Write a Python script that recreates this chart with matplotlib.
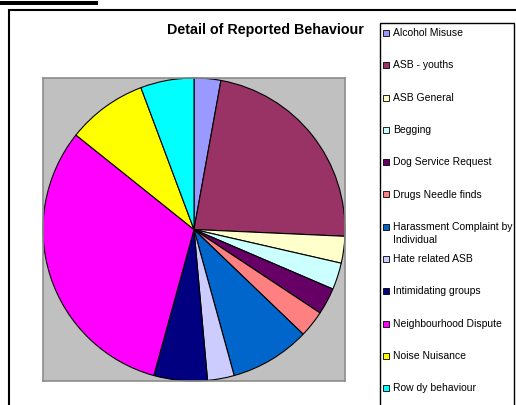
import matplotlib.pyplot as plt
from matplotlib.patches import Rectangle

plt.rcParams['font.family'] = ['Liberation Sans', 'DejaVu Sans']

# Data
categories = ['Alcohol Misuse', 'ASB - youths', 'ASB General', 'Begging',
              'Dog Service Request', 'Drugs Needle finds',
              'Harassment Complaint by\nIndividual', 'Hate related ASB',
              'Intimidating groups', 'Neighbourhood Dispute', 'Noise Nuisance',
              'Row dy behaviour']
counts = [1, 8, 1, 1, 1, 1, 3, 1, 2, 11, 3, 2]
colors = ['#9999FF', '#993366', '#FFFFCC', '#CCFFFF', '#660066', '#FF8080',
          '#0066CC', '#CCCCFF', '#000080', '#FF00FF', '#FFFF00', '#00FFFF']

W, H = 516, 405
fig = plt.figure(figsize=(W / 100, H / 100), dpi=100)

def fx(px):
    return px / W

def fy(py):
    return 1 - py / H

# heading underline and chart frame
fig.patches.append(Rectangle((0, fy(5)), fx(98), 4 / H, transform=fig.transFigure,
                             facecolor='black', edgecolor='none'))
fig.patches.append(Rectangle((fx(9), fy(420)), fx(520), 410 / H, transform=fig.transFigure,
                             facecolor='none', edgecolor='black', linewidth=1.5))

# pie plot area
ax = fig.add_axes([fx(43), fy(381), fx(302), 303 / H])
ax.pie(counts, colors=colors, startangle=90, counterclock=False, radius=1,
       wedgeprops=dict(edgecolor='black', linewidth=0.8))
ax.set_frame_on(True)
ax.set_facecolor('#C0C0C0')
ax.set_xlim(-1.0, 1.0)
ax.set_ylim(-1.0, 1.0)
ax.set_aspect('auto')
ax.set_xticks([])
ax.set_yticks([])
for s in ax.spines.values():
    s.set_visible(True)
    s.set_color('#8c8c8c')
    s.set_linewidth(1.2)

fig.text(fx(265), fy(30), 'Detail of Reported Behaviour', ha='center', va='center',
         fontsize=10.3, fontweight='bold')

# legend box
fig.patches.append(Rectangle((fx(380), fy(420)), fx(134), 397 / H, transform=fig.transFigure,
                             facecolor='white', edgecolor='black', linewidth=1.0))
for i, (lab, col) in enumerate(zip(categories, colors)):
    y = 33 + i * 32.3
    fig.patches.append(Rectangle((fx(383), fy(y + 3)), fx(6), 6 / H,
                                 transform=fig.transFigure, facecolor=col,
                                 edgecolor='black', linewidth=0.6))
    fig.text(fx(393), fy(y - 5), lab, ha='left', va='top', fontsize=7.5,
             linespacing=1.45)

fig.savefig('out.png', dpi=100)
